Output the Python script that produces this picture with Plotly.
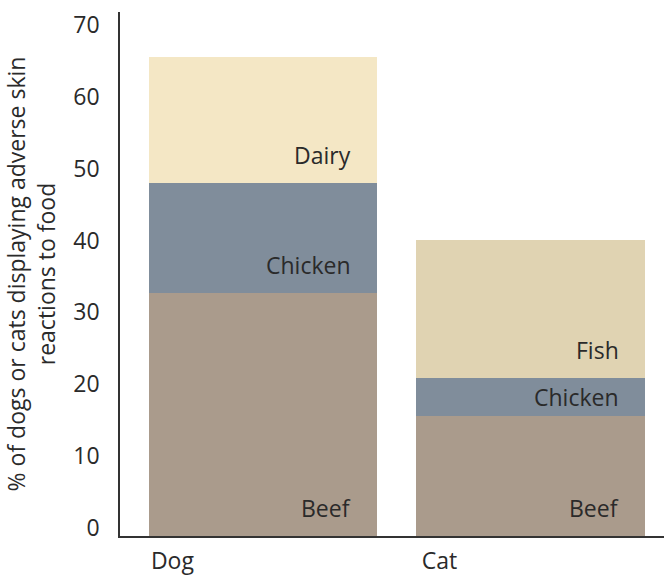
import plotly.graph_objects as go

categories = ["Dog", "Cat"]
beef = [33.8, 16.7]
chicken = [15.3, 5.3]
top_values = [17.5, 19.2]
top_labels = ["Dairy", "Fish"]

y_ticks = [0, 10, 20, 30, 40, 50, 60, 70]

beef_color = "#aa9b8c"
chicken_color = "#808d9b"
top_colors = ["#f4e7c5", "#e0d3b2"]
text_color = "#2a2a2a"
FONT = "Open Sans"
FS = 23

fig = go.Figure()
fig.add_trace(go.Bar(x=categories, y=beef, name="Beef",
                     marker=dict(color=beef_color, line=dict(width=0))))
fig.add_trace(go.Bar(x=categories, y=chicken, name="Chicken",
                     marker=dict(color=chicken_color, line=dict(width=0))))
fig.add_trace(go.Bar(x=categories, y=top_values, name="Top",
                     marker=dict(color=top_colors, line=dict(width=0))))

bar_width = 0.854
pad_units = 3.9
annotations = []
for i, cat in enumerate(categories):
    segs = [(beef[i], "Beef"), (chicken[i], "Chicken"), (top_values[i], top_labels[i])]
    base = 0.0
    for val, lab in segs:
        annotations.append(dict(
            x=i + bar_width / 2, y=base + min(pad_units, val / 2),
            xref="x", yref="y", text=lab, showarrow=False,
            xanchor="right", yanchor="middle", xshift=-24,
            font=dict(family=FONT, size=FS, color=text_color)))
        base += val

fig.update_layout(
    barmode="stack",
    bargap=1 - bar_width,
    width=664, height=575,
    margin=dict(l=120, r=0, t=12, b=39, autoexpand=False),
    paper_bgcolor="white", plot_bgcolor="white",
    showlegend=False,
    font=dict(family=FONT, size=FS, color=text_color),
    annotations=annotations,
    xaxis=dict(
        type="category", range=[-0.537, 1.5], automargin=False,
        showline=True, linecolor="#333333", linewidth=1.5,
        ticks="", showgrid=False, zeroline=False,
        ticklabelshift=-91, ticklabelstandoff=4,
        tickfont=dict(family=FONT, size=FS, color=text_color)),
    yaxis=dict(
        range=[0, 72.9], automargin=False,
        tickvals=y_ticks, ticktext=[str(v) for v in y_ticks],
        showline=True, linecolor="#333333", linewidth=1.5,
        ticks="", showgrid=False, zeroline=False,
        ticklabelshift=-8, ticklabelstandoff=14,
        tickfont=dict(family=FONT, size=FS, color=text_color),
        title=dict(text="% of dogs or cats displaying adverse skin<br>reactions to food",
                   font=dict(family=FONT, size=FS, color=text_color),
                   standoff=14)),
)

fig.write_html("out.html",
               config={"displayModeBar": False},
               post_script="document.body.style.margin='0';document.body.style.overflow='hidden';")
